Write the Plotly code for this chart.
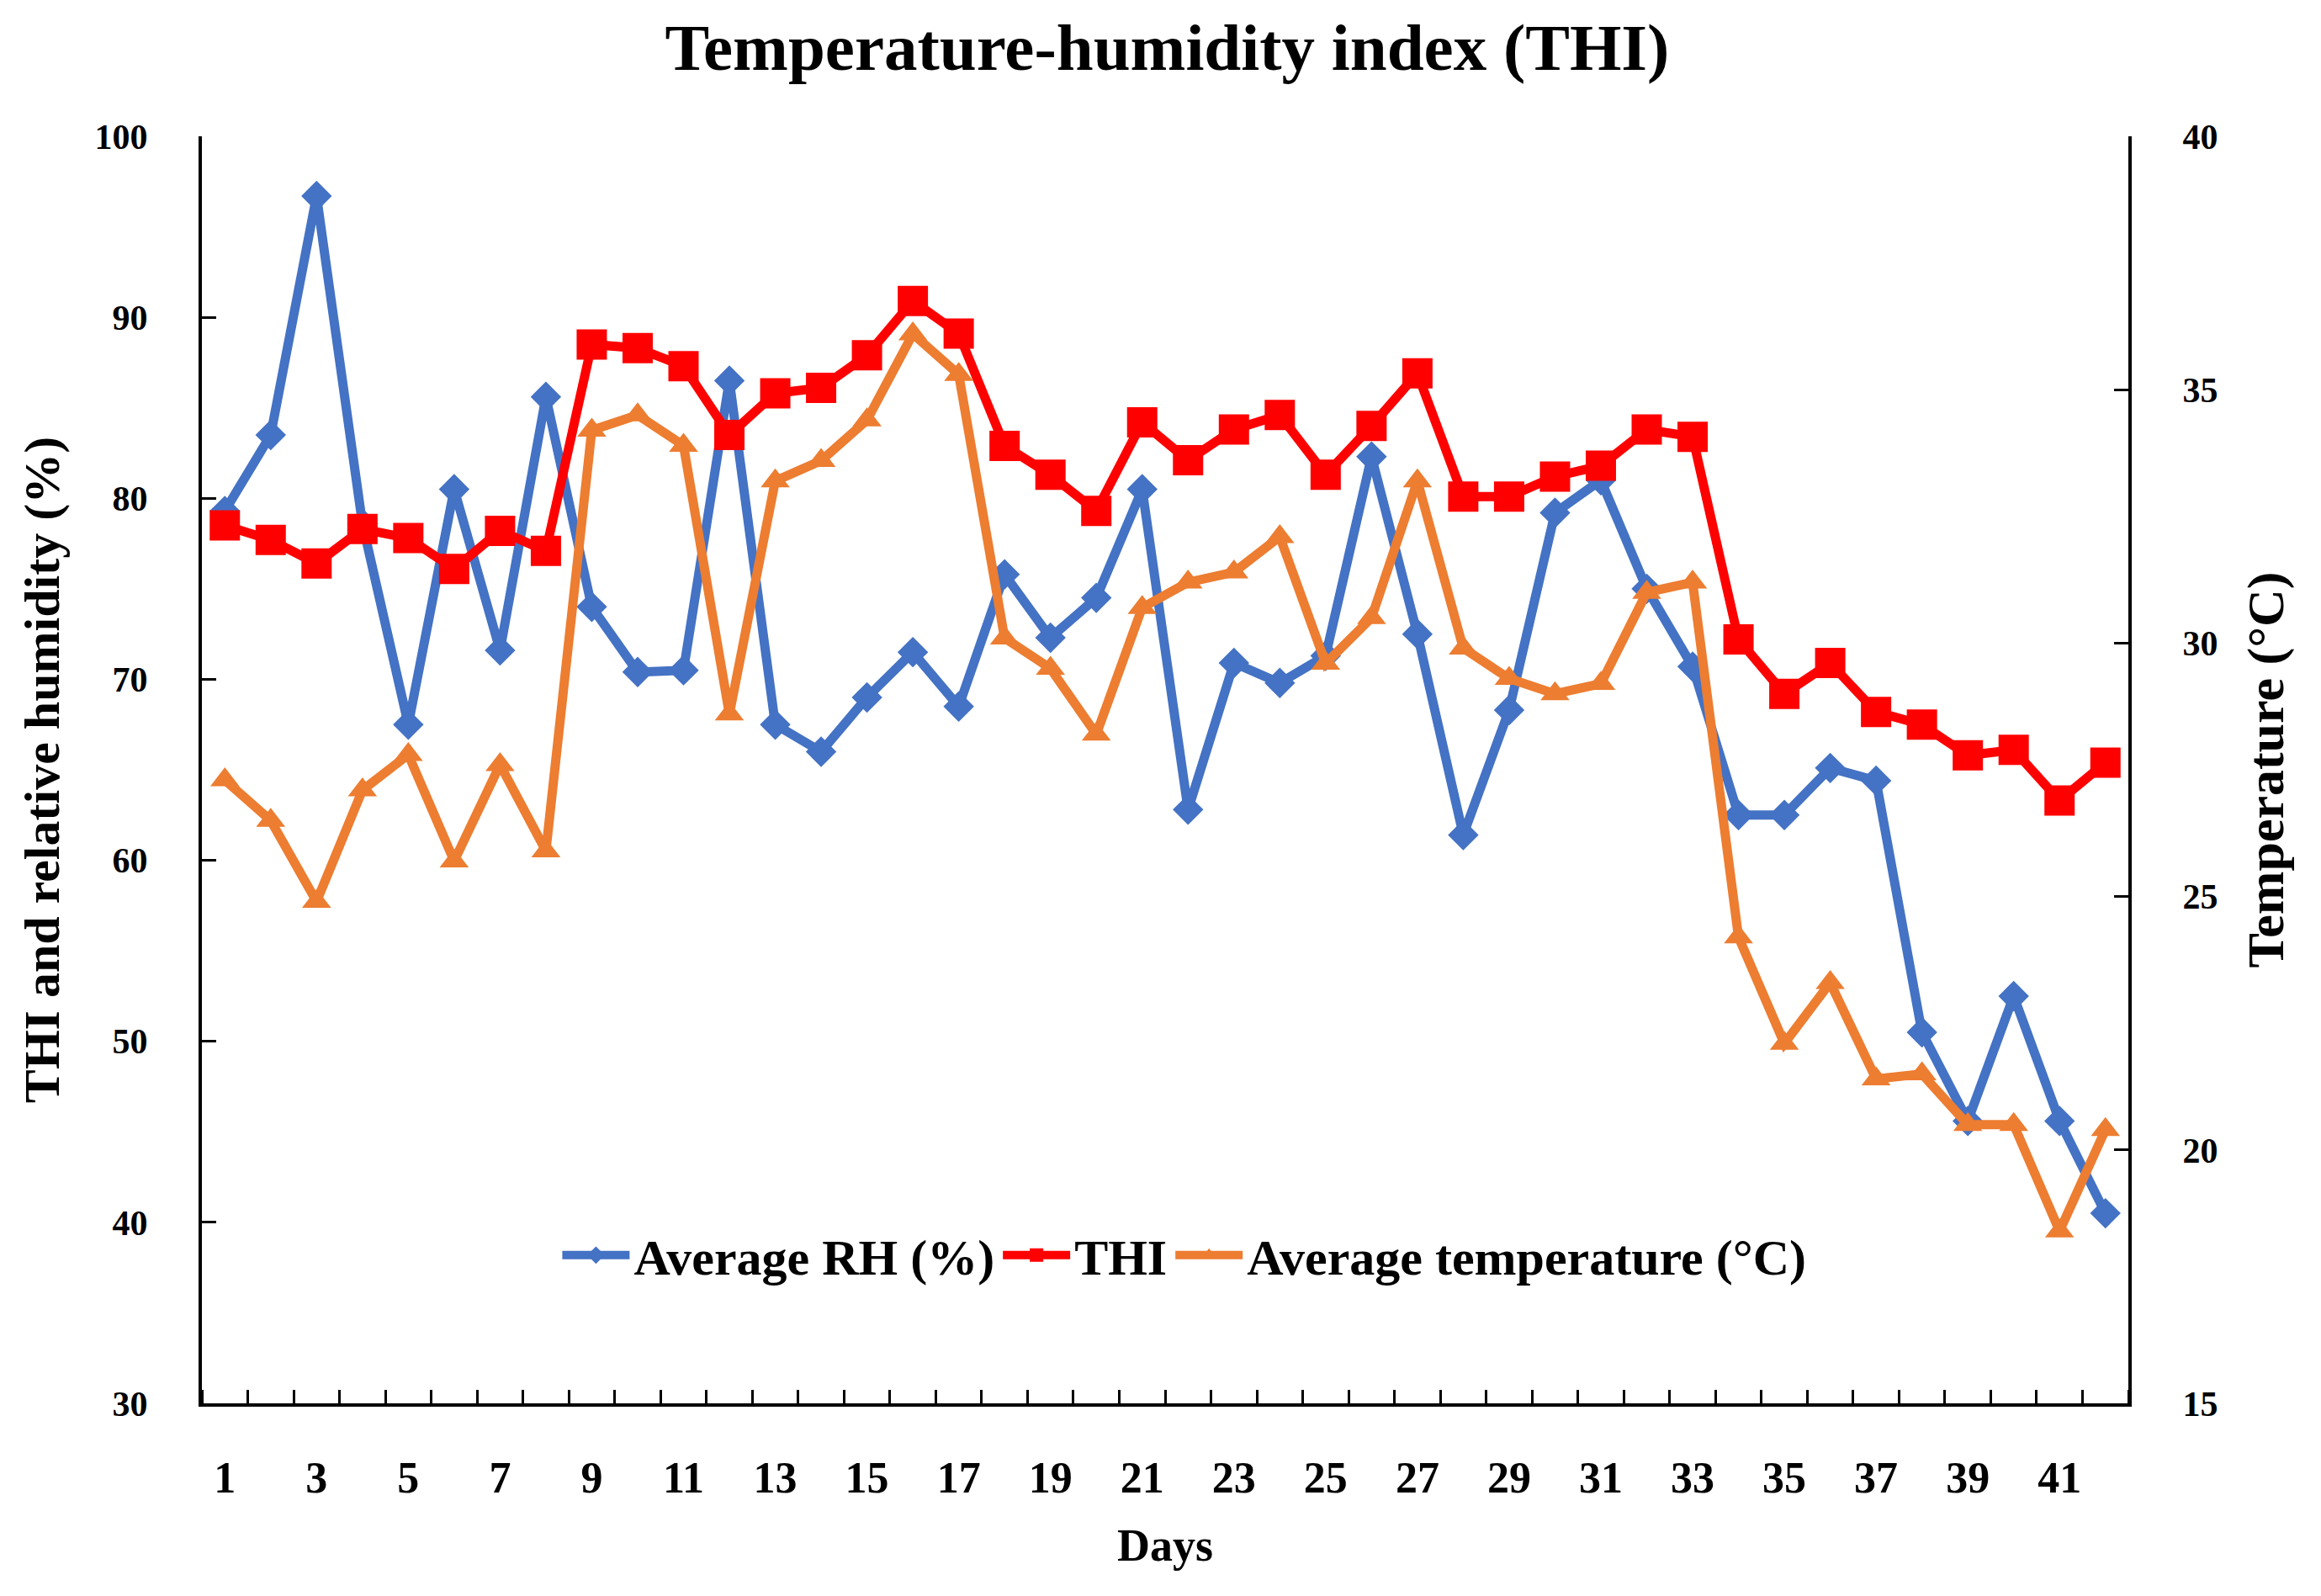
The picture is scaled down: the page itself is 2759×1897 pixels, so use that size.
import plotly.graph_objects as go

days = list(range(1, 43))

avg_rh = [79.3, 83.5, 96.7, 78.6, 67.5, 80.5, 71.6, 85.6, 74.0, 70.4,
          70.5, 86.5, 67.5, 66.0, 69.0, 71.5, 68.5, 75.8, 72.3, 74.5,
          80.5, 62.8, 70.9, 69.8, 71.3, 82.3, 72.5, 61.4, 68.3, 79.2,
          81.0, 75.0, 70.7, 62.5, 62.5, 65.1, 64.4, 50.5, 45.6, 52.5,
          45.6, 40.5]

thi = [78.5, 77.7, 76.4, 78.3, 77.8, 76.1, 78.2, 77.1, 88.5, 88.3,
       87.3, 83.5, 85.8, 86.1, 87.9, 90.9, 89.1, 82.9, 81.3, 79.3,
       84.2, 82.1, 83.8, 84.6, 81.3, 84.0, 86.9, 80.1, 80.1, 81.2,
       81.8, 83.8, 83.4, 72.2, 69.2, 70.9, 68.2, 67.5, 65.8, 66.1,
       63.3, 65.4]

avg_temp = [27.3, 26.5, 24.9, 27.1, 27.8, 25.7, 27.6, 25.9, 34.2, 34.5,
            33.9, 28.6, 33.2, 33.6, 34.4, 36.1, 35.3, 30.1, 29.5, 28.2,
            30.7, 31.2, 31.4, 32.1, 29.6, 30.5, 33.2, 29.9, 29.3, 29.0,
            29.2, 31.0, 31.2, 24.2, 22.1, 23.3, 21.4, 21.5, 20.5, 20.5,
            18.4, 20.4]

x_tick_days = list(range(1, 43, 2))

FONT = "Liberation Serif"
BLUE = "#4472C4"
RED = "#FF0000"
ORANGE = "#ED7D31"

fig = go.Figure()

fig.add_trace(go.Scatter(
    x=days, y=avg_rh, name="Average RH (%)", mode="lines+markers",
    line=dict(color=BLUE, width=11),
    marker=dict(symbol="diamond", size=28, color=BLUE),
))
fig.add_trace(go.Scatter(
    x=days, y=thi, name="THI", mode="lines+markers",
    line=dict(color=RED, width=11),
    marker=dict(symbol="square", size=36, color=RED),
))
fig.add_trace(go.Scatter(
    x=days, y=avg_temp, name="Average temperature (°C)", mode="lines+markers",
    line=dict(color=ORANGE, width=11),
    marker=dict(symbol="triangle-up", size=30, color=ORANGE),
    yaxis="y2",
))

fig.update_layout(
    width=2759, height=1897,
    margin=dict(l=232, r=237, t=154, b=237),
    paper_bgcolor="white", plot_bgcolor="white",
    font=dict(family=FONT, color="black", weight="bold"),
    title=dict(text="Temperature-humidity index (THI)", x=0.5, xanchor="center",
               y=0.975, yanchor="middle",
               font=dict(family=FONT, size=79, weight="bold")),
    xaxis=dict(
        range=[0.5, 42.5], tickmode="array", tickvals=x_tick_days,
        ticks="", showgrid=False, zeroline=False,
        showline=True, linecolor="black", linewidth=4,
        tickfont=dict(size=52, weight="bold"), ticklabelstandoff=40,
        title=dict(text="Days", font=dict(size=54, weight="bold"), standoff=34),
        minor=dict(tickmode="linear", tick0=0.5, dtick=1, ticks="inside",
                   ticklen=16, tickwidth=3, tickcolor="black", showgrid=False),
    ),
    yaxis=dict(
        range=[30, 100], dtick=10, ticks="inside", ticklen=17, tickwidth=3,
        tickcolor="black", showgrid=False, zeroline=False,
        showline=True, linecolor="black", linewidth=4,
        tickfont=dict(size=42, weight="bold"), ticklabelstandoff=52,
        title=dict(text="THI and relative humidity (%)",
                   font=dict(size=60, weight="bold"), standoff=24),
    ),
    yaxis2=dict(
        range=[15, 40], dtick=5, overlaying="y", side="right",
        ticks="inside", ticklen=17, tickwidth=3, tickcolor="black",
        showgrid=False, zeroline=False,
        showline=True, linecolor="black", linewidth=4,
        tickfont=dict(size=42, weight="bold"), ticklabelstandoff=52,
        title=dict(text="Temperature (°C)", font=dict(size=62, weight="bold"),
                   standoff=36),
    ),
    legend=dict(orientation="h", x=0.51, xanchor="center", y=0.117,
                yanchor="middle", bgcolor="rgba(0,0,0,0)",
                font=dict(size=60, weight="bold"), itemwidth=80),
    showlegend=True,
)

fig.write_html("out.html")
